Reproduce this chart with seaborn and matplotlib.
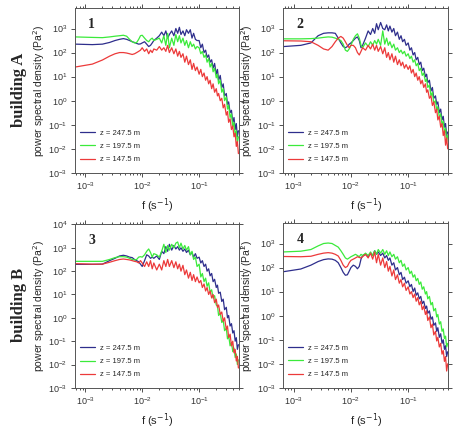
import matplotlib
matplotlib.use('Agg')
import matplotlib.pyplot as plt
import numpy as np
import pandas as pd
import seaborn as sns
from matplotlib.ticker import LogLocator, NullFormatter

sns.set_style('ticks')
plt.rcParams['font.family'] = ['Liberation Sans', 'DejaVu Sans']

# frequency (s^-1)
freq = [0.00067, 0.00133, 0.002, 0.00267, 0.00333, 0.004, 0.00467, 0.00533, 0.006, 0.00667,
        0.00733, 0.008, 0.00867, 0.00933, 0.01, 0.011, 0.012, 0.013, 0.014, 0.015,
        0.016, 0.018, 0.02, 0.022, 0.024, 0.026, 0.028, 0.03, 0.033, 0.036,
        0.039, 0.042, 0.045, 0.048, 0.052, 0.056, 0.06, 0.065, 0.07, 0.075,
        0.08, 0.086, 0.092, 0.1, 0.107, 0.114, 0.122, 0.13, 0.138, 0.147,
        0.156, 0.166, 0.176, 0.187, 0.2, 0.21, 0.22, 0.235, 0.25, 0.265,
        0.28, 0.3, 0.315, 0.33, 0.35, 0.37, 0.39, 0.41, 0.43, 0.45,
        0.47, 0.49]

series_names = ['z = 247.5 m', 'z = 197.5 m', 'z = 147.5 m']
colors = ['#2e2e8c', '#3bea3b', '#ec3a3a']

# log10 of power spectral density (Pa^2)
p1_blue = [2.35, 2.33, 2.35, 2.42, 2.5, 2.55, 2.58, 2.55, 2.5, 2.45,
           2.42, 2.38, 2.35, 2.36, 2.4, 2.45, 2.35, 2.25, 2.3, 2.4,
           2.5, 2.6, 2.7, 2.85, 2.7, 2.9, 2.6, 2.75, 2.9, 2.7,
           3.0, 2.8, 3.05, 2.75, 2.9, 2.7, 2.95, 2.8, 2.95, 2.6,
           2.8, 2.55, 2.5, 2.5, 2.2, 2.35, 2.0, 2.1, 1.8, 1.9,
           1.6, 1.7, 1.35, 1.55, 1.1, 1.3, 0.85, 1.05, 0.55, 0.7,
           0.2, 0.3, -0.15, -0.05, -0.5, -0.4, -0.9, -0.7, -1.2, -0.95,
           -1.5, -1.25]
p1_green = [2.65, 2.63, 2.62, 2.65, 2.68, 2.7, 2.72, 2.68, 2.55, 2.45,
            2.4, 2.42, 2.55, 2.7, 2.72, 2.6, 2.5, 2.45, 2.55, 2.6,
            2.5, 2.55, 2.6, 2.4, 2.7, 2.3, 2.8, 2.2, 2.6, 2.3,
            2.75, 2.45, 2.7, 2.4, 2.6, 2.3, 2.5, 2.2, 2.45, 2.25,
            2.35, 2.15, 2.25, 2.2, 1.95, 2.05, 1.8, 1.9, 1.6, 1.75,
            1.4, 1.55, 1.2, 1.35, 0.95, 1.1, 0.7, 0.85, 0.35, 0.5,
            0.0, 0.15, -0.35, -0.2, -0.7, -0.55, -1.1, -0.9, -1.45, -1.25,
            -1.75, -1.5]
p1_red = [1.4, 1.52, 1.69, 1.85, 1.95, 2.0, 2.0, 1.98, 1.95, 1.92,
          1.95, 2.0, 2.05, 2.1, 2.2, 2.05, 2.15, 1.95, 2.1, 2.0,
          2.15, 2.1, 2.25, 2.1, 2.2, 2.05, 2.3, 2.0, 2.2, 1.95,
          2.15, 1.85, 2.05, 1.8, 1.95, 1.6, 1.85, 1.5, 1.7, 1.3,
          1.55, 1.25, 1.4, 1.1, 1.3, 1.0, 1.15, 0.85, 1.0, 0.7,
          0.85, 0.5, 0.7, 0.35, 0.5, 0.2, 0.3, 0.0, 0.1, -0.3,
          -0.15, -0.6, -0.45, -0.9, -0.75, -1.2, -1.05, -1.5, -1.35, -1.9,
          -1.7, -2.2]

p2_blue = [2.25, 2.3, 2.4, 2.7, 2.8, 2.82, 2.82, 2.8, 2.6, 2.4,
           2.25, 2.2, 2.25, 2.35, 2.4, 2.5, 2.6, 2.65, 2.5, 2.2,
           2.3, 2.6, 2.9, 2.75, 3.0, 2.8, 3.2, 2.95, 3.25, 3.0,
           2.95, 3.15, 2.9, 3.1, 2.85, 3.0, 2.7, 2.85, 2.55, 2.7,
           2.45, 2.55, 2.3, 2.4, 2.1, 2.2, 1.9, 2.0, 1.7, 1.8,
           1.5, 1.6, 1.25, 1.35, 1.0, 1.1, 0.75, 0.85, 0.4, 0.55,
           0.1, 0.2, -0.15, -0.05, -0.5, -0.35, -0.8, -0.65, -1.1, -0.95,
           -1.45, -1.3]
p2_green = [2.57, 2.57, 2.58, 2.6, 2.63, 2.65, 2.64, 2.6, 2.55, 2.5,
            2.35, 2.1, 2.05, 2.15, 2.3, 2.55, 2.7, 2.78, 2.6, 2.3,
            2.2, 2.4, 2.25, 2.45, 2.3, 2.5, 2.35, 2.55, 2.3, 2.9,
            2.35, 2.6, 2.3, 2.45, 2.2, 2.35, 2.1, 2.2, 2.0, 2.1,
            1.95, 2.05, 1.85, 1.95, 1.75, 1.85, 1.6, 1.7, 1.45, 1.55,
            1.25, 1.35, 1.05, 1.15, 0.8, 0.9, 0.55, 0.65, 0.2, 0.35,
            -0.1, 0.0, -0.4, -0.25, -0.7, -0.55, -1.0, -0.85, -1.35, -1.15,
            -1.7, -1.45]
p2_red = [2.49, 2.48, 2.45, 2.3, 2.15, 2.1, 2.25, 2.45, 2.6, 2.67,
          2.6, 2.45, 2.3, 2.2, 2.3, 2.3, 2.2, 2.0, 1.9, 2.05,
          2.2, 2.1, 2.3, 2.15, 2.35, 2.1, 2.3, 2.05, 2.25, 1.95,
          2.2, 1.8, 2.0, 1.7, 1.95, 1.6, 1.85, 1.5, 1.7, 1.45,
          1.6, 1.35, 1.5, 1.3, 1.45, 1.15, 1.3, 1.0, 1.15, 0.85,
          1.0, 0.7, 0.85, 0.55, 0.7, 0.35, 0.45, 0.1, 0.2, -0.2,
          -0.05, -0.5, -0.35, -0.8, -0.65, -1.1, -0.95, -1.45, -1.25, -1.85,
          -1.55, -2.0]

p3_blue = [2.29, 2.29, 2.3, 2.45, 2.55, 2.65, 2.68, 2.65, 2.6, 2.58,
           2.5, 2.45, 2.4, 2.3, 2.2, 2.45, 2.7, 2.65, 2.55, 2.6,
           2.55, 2.65, 2.5, 2.85, 2.75, 3.05, 2.85, 3.15, 2.9, 3.1,
           2.95, 3.05, 2.9, 3.0, 2.85, 2.95, 2.8, 2.9, 2.7, 2.8,
           2.6, 2.75, 2.55, 2.6, 2.35, 2.45, 2.2, 2.3, 2.0, 2.1,
           1.8, 1.9, 1.55, 1.65, 1.3, 1.4, 1.05, 1.1, 0.7, 0.8,
           0.35, 0.45, 0.0, 0.1, -0.35, -0.25, -0.65, -0.55, -1.0, -0.85,
           -1.35, -1.15]
p3_green = [2.42, 2.42, 2.42, 2.5, 2.58, 2.62, 2.62, 2.6, 2.55, 2.5,
            2.48, 2.5, 2.6, 2.62, 2.6, 2.7, 2.85, 2.95, 2.8, 2.6,
            2.75, 2.7, 2.6, 2.85, 3.15, 2.8, 3.1, 2.9, 3.15, 3.0,
            3.2, 3.25, 3.0, 3.2, 2.95, 3.1, 2.9, 3.05, 2.7, 2.85,
            2.5, 2.6, 2.2, 2.3, 1.75, 1.9, 1.55, 1.7, 1.35, 1.5,
            1.1, 1.2, 0.85, 0.95, 0.55, 0.5, 0.1, 0.2, -0.2, -0.1,
            -0.55, -0.45, -0.9, -0.75, -1.2, -1.05, -1.45, -1.3, -1.7, -1.55,
            -2.0, -1.8]
p3_red = [2.32, 2.3, 2.3, 2.38, 2.45, 2.5, 2.52, 2.5, 2.48, 2.45,
          2.42, 2.4, 2.35, 2.45, 2.35, 2.2, 2.4, 2.2, 2.45, 2.1,
          2.35, 2.05, 2.3, 2.05, 2.45, 2.2, 2.5, 2.2, 2.45, 2.15,
          2.4, 2.1, 2.3, 2.0, 2.25, 1.85, 2.05, 1.7, 1.95, 1.6,
          1.85, 1.55, 1.75, 1.5, 1.6, 1.3, 1.45, 1.15, 1.3, 1.0,
          1.15, 0.85, 1.0, 0.65, 0.8, 0.45, 0.55, 0.15, 0.25, -0.15,
          0.0, -0.5, -0.35, -0.85, -0.7, -1.2, -1.0, -1.5, -1.35, -1.85,
          -1.65, -2.15]

p4_blue = [1.83, 1.94, 2.1, 2.25, 2.33, 2.36, 2.35, 2.3, 2.2, 2.0,
           1.8, 1.68, 1.7, 1.85, 2.0, 2.1, 2.05, 1.95, 2.05, 2.35,
           2.5, 2.55, 2.45, 2.6, 2.5, 2.7, 2.55, 2.65, 2.5, 2.6,
           2.4, 2.5, 2.3, 2.4, 2.1, 2.2, 1.9, 2.0, 1.7, 1.8,
           1.5, 1.6, 1.35, 1.45, 1.2, 1.3, 1.0, 1.15, 0.85, 0.95,
           0.7, 0.8, 0.5, 0.6, 0.3, 0.4, 0.1, 0.2, -0.15, -0.05,
           -0.4, -0.3, -0.65, -0.5, -0.9, -0.75, -1.15, -1.0, -1.4, -1.25,
           -1.7, -1.5]
p4_green = [2.65, 2.68, 2.75, 2.9, 3.0, 3.02, 3.0, 2.92, 2.85, 2.7,
            2.55, 2.4, 2.35, 2.4, 2.45, 2.5, 2.55, 2.5, 2.45, 2.55,
            2.5, 2.6, 2.5, 2.65, 2.5, 2.7, 2.55, 2.75, 2.6, 2.75,
            2.55, 2.7, 2.5, 2.65, 2.45, 2.55, 2.35, 2.45, 2.2, 2.3,
            2.05, 2.15, 1.9, 2.0, 1.75, 1.85, 1.6, 1.7, 1.45, 1.55,
            1.3, 1.4, 1.1, 1.2, 0.9, 1.0, 0.7, 0.8, 0.45, 0.55,
            0.2, 0.3, -0.05, 0.05, -0.35, -0.25, -0.65, -0.55, -0.95, -0.85,
            -1.3, -1.15]
p4_red = [2.46, 2.45, 2.47, 2.55, 2.6, 2.62, 2.6, 2.55, 2.48, 2.3,
          2.1, 2.0, 2.05, 2.2, 2.3, 2.35, 2.4, 2.45, 2.42, 2.4,
          2.45, 2.55, 2.4, 2.6, 2.35, 2.65, 2.2, 2.55, 2.1, 2.4,
          2.0, 2.25, 1.85, 2.05, 1.65, 1.9, 1.5, 1.7, 1.35, 1.5,
          1.2, 1.35, 1.05, 1.2, 0.9, 1.0, 0.75, 0.9, 0.6, 0.75,
          0.45, 0.6, 0.25, 0.4, 0.05, 0.2, -0.2, -0.05, -0.5, -0.35,
          -0.8, -0.65, -1.05, -0.9, -1.3, -1.15, -1.6, -1.45, -1.9, -1.7,
          -2.3, -2.0]

panels = [
    ('1', [p1_blue, p1_green, p1_red], 7e3),
    ('2', [p2_blue, p2_green, p2_red], 7e3),
    ('3', [p3_blue, p3_green, p3_red], 1e4),
    ('4', [p4_blue, p4_green, p4_red], 7e3),
]
positions = [
    [0.162, 0.598, 0.354, 0.383],
    [0.612, 0.598, 0.356, 0.383],
    [0.162, 0.098, 0.354, 0.380],
    [0.612, 0.098, 0.356, 0.383],
]

fig = plt.figure(figsize=(4.63, 4.30), dpi=100)

for (num, curves, ytop), pos in zip(panels, positions):
    ax = fig.add_axes(pos)
    frames = []
    for name, vals in zip(series_names, curves):
        frames.append(pd.DataFrame({'f': freq, 'psd': 10 ** np.array(vals), 'z': name}))
    df = pd.concat(frames)
    sns.lineplot(data=df, x='f', y='psd', hue='z', palette=colors,
                 linewidth=0.9, ax=ax, legend=True)
    ax.set_xscale('log')
    ax.set_yscale('log')
    ax.set_xlim(6.6e-4, 0.5)
    ax.set_ylim(1e-3, ytop)
    ax.xaxis.set_major_locator(LogLocator(base=10, numticks=10))
    ax.yaxis.set_major_locator(LogLocator(base=10, numticks=12))
    ax.xaxis.set_minor_locator(LogLocator(base=10, subs=np.arange(2, 10), numticks=10))
    ax.yaxis.set_minor_formatter(NullFormatter())
    ax.xaxis.set_minor_formatter(NullFormatter())
    ax.yaxis.set_minor_locator(LogLocator(base=10, subs=[], numticks=12))
    ax.tick_params(which='both', direction='out', top=True, right=True,
                   labelsize=6.5, colors='#333333', width=0.6)
    ax.tick_params(which='major', length=3, pad=2.5)
    ax.tick_params(which='minor', length=1.5)
    for s in ax.spines.values():
        s.set_linewidth(0.7)
        s.set_color('#555555')
    ax.set_xlabel('f (s$^{-1}$)', fontsize=8, labelpad=3)
    ax.set_ylabel('power spectral density (Pa$^2$)', fontsize=7.5, labelpad=1)
    ax.text(0.08, 0.88, num, transform=ax.transAxes, fontsize=10,
            fontweight='bold', family=['Liberation Serif', 'DejaVu Serif'])
    ax.legend(loc='lower left', frameon=False, fontsize=5.5, handlelength=2.0,
              handletextpad=0.6, borderaxespad=0.0, labelspacing=0.75,
              bbox_to_anchor=(0.01, 0.04))

fig.text(0.042, 0.79, 'building A', rotation=90, ha='center', va='center',
         fontsize=12, fontweight='bold', family=['Liberation Serif', 'DejaVu Serif'])
fig.text(0.042, 0.29, 'building B', rotation=90, ha='center', va='center',
         fontsize=12, fontweight='bold', family=['Liberation Serif', 'DejaVu Serif'])

fig.savefig('out.png', dpi=100)
